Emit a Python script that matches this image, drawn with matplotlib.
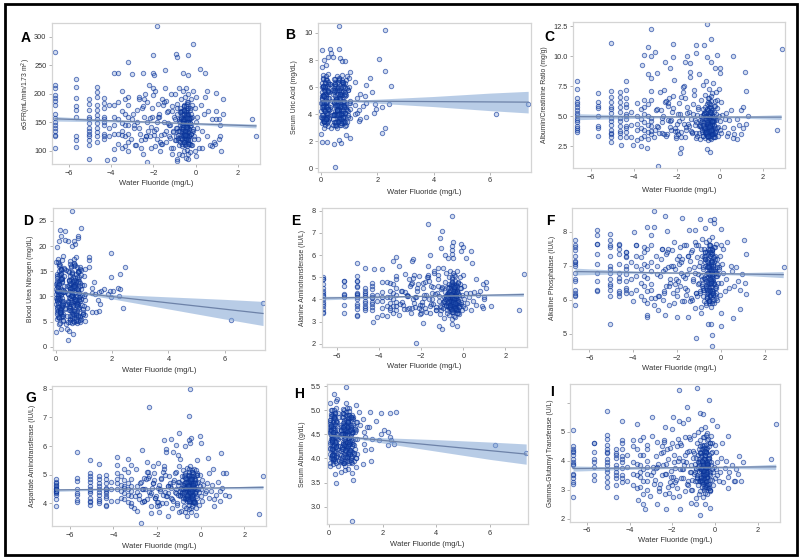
import matplotlib
matplotlib.use("Agg")
import matplotlib.pyplot as plt
from matplotlib.patches import Rectangle

plt.rcParams['font.family'] = ['Liberation Sans', 'DejaVu Sans']

#water fluoride, log scale (panels A C E F G I), one value per y value below
log_x = [
    -6.65,-6.65,-6.65,-6.65,-6.65,-6.65,-6.65,-6.65,-6.65,-6.65,
    -6.65,-6.65,-6.65,-6.65,-5.65,-5.65,-5.65,-5.65,-5.65,-5.65,
    -5.65,-5.05,-5.05,-5.05,-5.05,-5.05,-5.05,-5.05,-5.05,-5.05,
    -5.05,-5.05,-5.05,-4.65,-4.65,-4.65,-4.65,-4.65,-4.65,-4.65,
    -4.65,-4.65,-4.65,-4.35,-4.35,-4.35,-4.35,-4.35,-4.35,-4.35,
    -4.35,-4.35,-4.35,-4.1,-4.1,-4.1,-3.85,-3.85,-3.85,-3.85,
    -3.85,-3.65,-3.65,-3.65,-3.65,-3.5,-3.5,-3.5,-3.5,-3.5,
    -3.5,-3.35,-3.35,-3.35,-3.35,-3.35,-3.2,-3.2,-3.2,-3.2,
    -3.2,-3.2,-3.2,-3.05,-2.95,-2.85,-2.78,-2.7,-2.62,-2.55,
    -2.48,-2.4,-2.35,-2.28,-2.2,-2.12,-2.05,-1.98,-1.9,-1.82,
    -1.75,-1.68,-1.6,-1.52,-1.45,-1.38,-1.3,-1.25,-1.18,-1.12,
    -2.9,-2.6,-2.45,-2.3,-2.15,-2.0,-1.85,-1.7,-1.55,-1.4,
    -1.08,-1.02,-0.98,-0.94,-0.9,-0.86,-0.83,-0.8,-0.77,-0.74,
    -0.72,-0.7,-0.68,-0.66,-0.64,-0.62,-0.6,-0.58,-0.56,-0.55,
    -0.54,-0.53,-0.52,-0.5,-0.49,-0.48,-0.47,-0.46,-0.45,-0.44,
    -0.43,-0.42,-0.41,-0.4,-0.39,-0.38,-0.36,-0.35,-0.34,-0.32,
    -0.3,-0.28,-0.26,-0.24,-0.22,-0.2,-0.18,-0.16,-0.13,-0.1,
    -0.92,-0.85,-0.78,-0.71,-0.65,-0.59,-0.51,-0.44,-0.37,-0.29,
    -0.88,-0.75,-0.63,-0.57,-0.52,-0.46,-0.4,-0.33,-0.25,-0.15,
    -0.08,-0.05,-0.02,0,0.03,0.05,0.08,0.12,0.18,0.25,
    0.3,0.38,0.45,0.52,0.6,0.68,0.78,0.88,0.98,1.1,
    -2.92,-2.75,-2.58,-2.42,-2.25,-2.08,-1.92,-1.78,-1.62,-1.48,
    -2.82,-2.66,-2.5,-2.33,-2.18,-2.02,-1.88,-1.72,-1.58,-1.42,
    -1.35,-1.28,-1.22,-1.15,-1.1,-1.05,-3.0,-2.7,-2.38,-2.1,
    -1.95,-1.8,-1.65,-1.5,-1.32,-1.2,-1.14,-1.06,-1.0,-0.96,
    -0.95,-0.9,-0.87,-0.84,-0.81,-0.79,-0.76,-0.73,-0.7,-0.67,
    -0.65,-0.63,-0.61,-0.59,-0.57,-0.55,-0.53,-0.51,-0.49,-0.47,
    -0.46,-0.45,-0.44,-0.43,-0.42,-0.41,-0.4,-0.39,-0.38,-0.37,
    -0.36,-0.35,-0.33,-0.31,-0.29,-0.27,-0.25,-0.23,-0.21,-0.19,
    -0.82,-0.74,-0.69,-0.64,-0.6,-0.56,-0.54,-0.5,-0.48,-0.46,
    -0.44,-0.42,-0.4,-0.38,-0.35,-0.32,-0.28,-0.24,-0.17,-0.12,
    -0.68,-0.62,-0.58,-0.55,-0.52,-0.5,-0.47,-0.43,-0.41,-0.39,
    -0.66,-0.6,-0.56,-0.53,-0.49,-0.45,-0.42,-0.37,-0.34,-0.3,
    -0.72,-0.67,-0.61,-0.57,-0.54,-0.51,-0.48,-0.44,-0.38,-0.26,
    -0.78,-0.7,-0.64,-0.59,-0.55,-0.5,-0.46,-0.41,-0.36,-0.22]

egfr = [
    105,128,135,140,150,158,165,180,193,197,
    188,145,125,210,107,118,125,160,178,192,
    172,110,118,125,135,140,148,160,172,190,
    130,155,182,116,125,132,148,162,172,180,
    140,155,195,120,130,145,155,160,175,193,
    125,150,183,125,140,180,103,130,145,180,
    160,112,130,155,185,105,128,148,170,205,
    135,108,125,145,165,190,100,130,160,195,
    115,145,180,120,165,110,150,190,130,175,
    95,200,125,150,215,105,175,135,205,120,
    160,100,190,130,210,115,170,145,200,95,
    140,105,160,185,125,210,150,115,180,135,
    105,160,200,125,85,175,135,210,95,150,
    115,190,140,165,92,205,125,155,100,178,
    130,170,110,195,145,88,160,120,210,135,
    150,102,185,125,165,95,140,200,115,155,
    128,175,98,145,190,110,160,135,205,120,
    140,118,155,170,108,148,132,125,162,143,
    182,122,138,152,128,168,142,112,158,135,
    125,175,100,150,195,140,160,120,105,180,
    135,165,195,125,170,110,155,115,170,155,
    145,172,118,190,135,160,108,182,128,150,
    110,140,178,125,158,198,138,165,112,188,
    168,125,145,105,178,132,155,195,120,142,
    128,160,112,185,148,122,170,135,155,118,
    118,140,165,128,152,110,175,135,158,122,
    145,170,115,138,160,125,180,148,112,168,
    130,155,120,175,142,108,162,135,185,150,
    118,165,138,125,172,148,112,158,130,180,
    122,145,168,135,155,115,178,128,150,162,
    140,118,172,132,158,125,148,165,110,138,
    155,128,145,170,118,135,160,125,182,142,
    112,152,130,165,122,148,138,175,120,158,
    168,125,142,115,155,135,178,128,150,118,
    135,160,120,148,172,128,142,158,112,130]
egfr_out_x = [-6.65,-6.65,-5.65,-5.65,-5.05,-4.65,-4.65,-4.2,-3.85,-3.85,-3.65,-3.2,-3.0,-2.5,-2.0,-1.95,-2.0,-1.85,-1.45,-0.95,-0.88,-0.6,-0.37,-0.35,-0.12,0.2,0.45,2.65,2.87,1.3,1.3,1.2,0.95,0.55,-0.9,-2.3,-0.35,0.03,0.75,0.9,1.1,1.15,0.3,1.15,0.95]
egfr_out_y = [273,216,225,212,85,211,203,83,86,237,236,255,235,237,237,233,268,318,242,270,264,236,268,232,287,243,237,156,125,191,165,99,202,205,82,80,85,90,109,112,121,126,105,145,156]

acr = [
    3.7,3.9,4.2,4.5,4.9,5.1,5.3,5.8,6.2,6.5,
    4.0,4.7,5.5,6.0,3.4,4.0,4.2,5.0,5.7,6.2,
    5.9,3.3,3.6,3.9,4.3,4.9,5.3,5.8,6.2,6.6,
    3.5,4.6,5.6,3.3,3.8,4.2,4.9,5.4,6.2,6.6,
    3.6,4.6,5.8,3.3,3.7,4.2,4.8,5.2,5.8,6.5,
    4.0,5.0,6.0,3.3,4.3,5.4,3.0,3.9,5.0,6.1,
    4.4,3.2,4.0,4.8,5.6,3.4,3.9,4.5,5.2,6.4,
    5.8,3.1,3.7,4.3,5.0,6.0,3.5,4.2,4.9,7.1,
    3.8,4.6,6.4,3.3,5.5,4.1,7.0,3.6,5.0,6.2,
    3.4,4.7,6.5,3.9,5.4,8.0,3.2,4.4,6.1,3.7,
    4.9,7.5,3.3,5.8,4.2,8.3,3.6,5.2,6.8,4.5,
    5.6,7.2,3.5,4.6,6.7,3.8,5.2,7.0,4.1,8.7,
    3.6,5.8,8.5,4.2,3.1,6.4,4.8,7.6,3.4,5.3,
    4.0,6.8,3.2,5.0,7.9,3.7,5.6,4.4,6.2,3.0,
    4.6,3.4,6.5,5.2,3.9,7.3,4.2,5.8,3.2,4.9,
    6.0,3.6,4.5,5.5,3.1,6.9,4.0,5.0,3.7,7.8,
    3.5,5.4,4.3,6.3,3.3,4.8,7.0,3.8,5.7,4.1,
    4.7,4.1,5.1,3.9,4.4,5.6,4.2,4.8,3.6,5.9,
    4.5,5.2,3.8,4.3,4.9,4.0,5.4,4.6,3.5,6.4,
    3.4,5.0,7.3,3.9,4.6,6.2,3.6,5.1,4.1,4.8,
    5.3,3.6,4.7,5.5,4.0,3.5,4.8,4.3,5.5,5.8,
    4.2,5.5,3.5,6.1,4.7,3.8,5.2,3.3,6.5,4.4,
    3.6,4.9,6.3,4.1,5.7,3.4,4.6,7.4,3.9,5.4,
    4.8,3.7,6.0,4.3,3.2,5.1,3.9,4.5,5.9,4.0,
    3.5,6.6,4.4,5.3,3.8,7.2,4.7,3.4,5.6,4.2,
    3.6,4.3,5.0,3.9,4.6,3.4,5.6,4.1,3.7,4.8,
    5.3,3.5,4.4,6.0,3.8,4.9,3.3,4.2,5.7,4.5,
    3.9,4.7,3.6,5.2,4.1,3.4,4.9,6.3,3.7,4.4,
    5.5,3.8,4.6,3.5,5.0,4.2,3.3,5.9,4.0,4.7,
    3.7,4.5,5.4,3.9,3.4,6.5,4.3,4.8,3.6,5.1,
    4.1,3.8,5.7,4.4,3.5,4.9,4.6,3.7,5.2,4.0,
    3.6,5.0,4.2,3.9,6.1,4.7,3.4,4.4,5.3,3.8,
    4.8,3.5,4.1,5.5,3.7,4.3,6.7,3.9,4.6,3.3,
    5.2,4.0,3.6,4.7,4.4,3.8,5.0,4.2,3.5,4.9,
    4.3,5.8,3.7,4.5,3.4,4.1,5.4,3.9,4.6,3.6]
acr_out_x = [-6.65,-6.65,-5.05,-3.2,-3.35,-3.5,-3.2,-3.0,-2.55,-2.15,-2.15,-1.5,-1.1,-1.1,-0.75,-0.58,-0.4,0.6,2.87,1.15,1.2,2.65,-2.85,-0.45,-1.85,-1.8,-0.6,-3.4,-4.6,-4.05,-5.05,-3.65,-0.15,-0.2,-0.6,-0.4,-3.6,-3.35,-2.9,-3.2,-2.3,-1.6,-1.4,0,0,-5.65,-4.35,-4.35,-4.65,-5.05,0.35,0.6,0.8,1,1.1,1.2,1.3]
acr_out_y = [7.9,7.3,11.1,12.3,10.8,10.1,10.0,10.35,9.5,11.05,9.9,10.0,10.95,10.3,10.95,12.7,11.45,10.05,10.6,8.7,7.1,3.9,0.85,2.0,1.95,2.4,2.3,2.35,2.65,2.6,2.9,2.55,10.1,9.0,9.9,9.5,9.3,8.5,8.6,8.2,9.0,9.5,9.4,9.0,8.6,6.9,7.9,7.2,7.0,7.1,3.4,3.2,3.1,3.5,4.0,4.4,5.0]

alt = [
    3.45,3.55,3.7,3.9,4.0,4.15,4.3,4.4,4.7,4.9,
    3.4,3.8,4.2,4.5,3.4,3.75,4.1,4.25,4.6,4.85,
    4.2,3.3,3.55,3.8,4.0,4.2,4.3,4.6,4.85,3.7,
    4.1,4.25,4.55,3.5,3.7,3.95,4.1,4.3,4.5,4.4,
    3.6,3.85,4.2,3.5,3.65,3.9,4.05,4.2,4.45,4.75,
    3.8,4.1,4.6,3.2,3.95,4.2,3.6,3.95,4.35,4.8,
    4.1,3.25,3.7,4.1,4.8,3.5,3.85,4.1,4.4,4.75,
    3.6,3.4,3.7,4.0,4.3,4.7,3.5,3.9,4.5,5.05,
    3.7,4.2,4.9,3.3,4.4,3.75,5.15,3.55,4.15,4.6,
    3.4,4.0,5.1,3.65,4.5,5.05,3.35,3.9,4.75,3.6,
    4.2,5.1,3.4,4.6,3.8,5.2,3.5,4.3,4.9,3.7,
    4.4,4.9,3.6,4.1,4.7,3.5,4.2,5.0,3.8,5.3,
    3.5,4.5,5.4,3.9,3.15,4.8,4.1,5.2,3.4,4.3,
    3.7,5.0,3.3,4.2,5.3,3.6,4.6,3.95,4.8,3.1,
    4.0,3.45,4.9,4.3,3.75,5.2,3.9,4.5,3.25,4.15,
    4.7,3.55,4.05,4.4,3.2,5.05,3.8,4.25,3.6,5.3,
    3.5,4.4,3.9,4.8,3.35,4.1,5.0,3.7,4.5,3.8,
    4.1,3.85,4.25,3.7,4.0,4.5,3.9,4.15,3.55,4.6,
    4.0,4.3,3.75,3.95,4.2,3.85,4.4,4.05,3.5,4.7,
    3.5,4.2,5.1,3.7,4.0,4.6,3.6,4.3,3.85,4.1,
    4.3,3.5,3.95,4.35,3.75,4.2,4.4,3.7,4.1,4.5,
    3.9,4.35,3.6,4.75,4.1,3.75,4.5,3.45,4.85,4.0,
    3.55,4.2,4.7,3.85,4.4,3.4,4.05,5.0,3.7,4.55,
    4.25,3.65,4.6,3.95,3.35,4.45,3.8,4.15,4.95,3.6,
    3.75,4.8,4.0,4.3,3.5,5.1,4.15,3.65,4.55,3.9,
    3.6,3.95,4.35,3.75,4.15,3.5,4.55,3.85,4.25,4.05,
    4.4,3.65,4.0,4.7,3.8,4.2,3.45,3.95,4.6,4.1,
    3.75,4.3,3.55,4.5,3.9,3.6,4.25,4.85,3.7,4.05,
    4.65,3.8,4.15,3.5,4.4,3.95,3.4,4.75,3.85,4.2,
    3.7,4.1,4.55,3.9,3.55,5.0,4.0,4.3,3.65,4.45,
    3.85,3.7,4.6,4.2,3.5,4.05,4.35,3.75,4.5,3.9,
    3.6,4.25,3.95,3.8,4.8,4.15,3.45,4.1,4.55,3.75,
    4.35,3.55,3.9,4.65,3.7,4.05,5.1,3.85,4.3,3.4,
    4.5,3.95,3.65,4.2,4.1,3.8,4.4,4.0,3.6,4.3,
    4.05,4.7,3.75,4.25,3.5,3.9,4.55,3.85,4.15,3.65]
alt_out_x = [-0.55,-1.7,-1.0,-1.1,-1.05,-0.5,-0.55,-0.55,-0.1,0,-0.1,0.35,-0.55,-0.85,-1.6,-0.5,-0.75,0.15,0.4,-3.2,-3.35,-3.05,-5.05,-4.65,-4.25,-3.85,-2.4,-2.45,-1.7,-1.2,2.87,2.65,-2.25,-1.0,-1.15,-0.55,-0.3,-1.9,-4.3,0.95,1.3,1.0,1.1,0.95,0.6,-6.65,-6.65,-5.05,-5.05,-5.65,-3.85,-5.05]
alt_out_y = [7.78,7.4,7.07,6.78,6.3,6.6,6.4,6.25,6.5,6.38,6.2,6.2,6.05,6.0,6.0,5.85,5.85,5.85,5.65,5.92,5.75,5.5,5.65,5.42,5.38,5.38,5.82,5.75,5.5,5.4,5.15,3.5,2.02,2.65,2.8,2.88,2.8,2.95,2.97,3.6,3.7,4.0,4.8,4.7,4.9,5.0,4.9,5.05,4.85,4.85,3.3,3.25]

alp = [
    6.1,6.2,6.3,6.6,6.8,7.05,7.1,7.15,7.3,7.45,
    6.15,6.55,7.0,7.55,6.25,6.3,6.55,6.8,7.05,7.35,
    7.65,6.1,6.3,6.4,6.6,6.8,7.0,7.3,7.55,7.75,
    6.45,6.9,7.6,6.1,6.25,6.55,6.8,7.05,7.35,7.5,
    6.2,6.65,7.6,6.2,6.35,6.55,6.75,7.0,7.25,7.4,
    6.3,6.9,7.3,6.2,6.6,7.1,6.3,6.7,7.0,7.3,
    7.6,6.1,6.5,6.9,7.25,6.0,6.4,6.7,7.05,7.4,
    7.55,5.9,6.25,6.65,7.0,7.5,6.05,6.45,6.85,7.9,
    6.3,7.1,7.6,5.85,7.3,6.1,6.7,7.5,6.0,6.9,
    6.4,7.5,5.85,7.0,6.2,7.7,6.6,6.1,7.3,6.8,
    7.2,5.95,7.6,6.3,6.9,6.05,7.45,6.55,7.7,6.2,
    7.0,6.2,7.4,6.6,5.9,7.2,6.4,7.6,6.75,5.95,
    6.1,7.6,6.5,7.1,5.8,7.8,6.3,6.9,5.95,7.4,
    6.6,7.2,5.85,7.7,6.2,6.95,6.4,7.5,6.0,7.05,
    6.3,7.75,5.9,6.7,7.3,6.1,7.6,6.5,6.85,5.8,
    7.15,6.25,7.45,5.95,6.75,7.85,6.15,7.0,6.45,7.55,
    5.9,6.9,7.3,6.35,7.65,6.05,6.7,7.2,6.5,6.95,
    7.5,6.6,6.3,7.0,6.45,7.35,6.15,6.8,6.55,7.1,
    6.4,7.25,6.65,6.2,6.9,6.5,7.4,6.75,6.35,7.05,
    6.9,7.3,6.15,7.6,6.5,7.05,6.8,7.5,6.25,6.6,
    7.7,6.35,7.0,6.85,6.4,6.95,6.55,6.3,6.75,6.5,
    6.75,7.2,6.25,6.95,7.45,6.45,7.05,5.95,6.65,7.3,
    6.1,6.85,7.35,6.5,7.0,6.3,7.55,6.7,6.15,7.15,
    7.4,6.6,6.95,6.2,7.25,6.75,6.05,7.5,6.4,6.9,
    6.55,7.1,6.35,7.3,6.0,6.8,7.6,6.45,7.0,6.25,
    6.2,6.7,7.3,6.45,6.95,6.1,7.5,6.6,7.1,6.35,
    7.4,6.05,6.8,7.2,6.5,5.95,7.0,6.3,7.6,6.65,
    6.15,6.9,7.35,6.4,6.75,5.9,7.15,6.55,7.45,6.25,
    7.05,6.6,6.0,7.25,6.45,6.85,7.55,6.2,6.7,6.95,
    6.35,7.4,6.75,6.1,7.1,6.5,5.95,6.9,7.3,6.6,
    7.0,6.3,6.65,7.5,6.15,6.85,7.2,6.4,6.0,6.75,
    6.55,7.15,6.25,6.95,7.6,6.45,6.1,7.05,6.7,7.35,
    5.9,6.8,7.45,6.35,6.6,7.1,6.2,6.9,7.25,6.5,
    7.3,6.4,6.05,7.0,6.75,6.25,7.5,6.55,6.85,6.15,
    6.65,7.2,6.3,6.95,5.95,7.4,6.5,7.1,6.2,6.8]
alp_out_x = [-6.65,-5.65,-5.65,-5.05,-5.05,-3.95,-3.35,-3.05,-3.05,-2.55,-1.75,-1.45,-1.2,-0.95,-0.7,-0.5,-0.3,-0.3,0,-2.45,1.05,1.15,2.87,2.62,1.15,0.9,0.55,-1.15,-0.4,-0.4,-0.6,-0.45,0.03,-3.35,-3.35,-2.55,-2.0,-1.5,-1.2,-0.9,0,-2.85,-4,-6.65,-6.65,-5.65,-4.65,-4.35,-3.85]
alp_out_y = [5.85,8.05,7.9,7.93,5.3,8.0,8.15,8.13,8.62,8.48,8.4,8.05,8.05,8.37,8.12,8.35,8.37,8.25,8.08,8.03,7.75,7.35,6.97,6.22,6.18,5.72,5.46,4.88,4.63,4.97,5.3,5.3,5.24,5.5,5.55,5.55,5.5,5.5,5.75,5.6,5.6,5.7,5.95,7.75,7.6,7.65,7.65,7.4,7.6]

ast = [
    4.15,4.3,4.4,4.45,4.5,4.55,4.6,4.65,4.75,4.85,
    4.35,4.45,4.52,4.7,4.05,4.12,4.3,4.52,4.78,4.9,
    4.35,3.95,4.05,4.2,4.35,4.45,4.6,4.75,4.95,5.05,
    4.1,4.5,4.85,4.0,4.15,4.3,4.5,4.7,4.85,4.95,
    4.1,4.4,4.62,3.95,4.2,4.35,4.45,4.55,4.7,4.85,
    4.25,4.5,5.0,4.1,4.5,4.75,4.1,4.5,4.7,4.85,
    5.05,4.2,4.45,4.65,4.95,4.15,4.35,4.55,4.8,5.2,
    4.6,4.05,4.3,4.5,4.7,5.1,3.9,4.25,4.6,5.35,
    4.0,4.45,4.85,3.85,5.2,4.3,4.7,4.05,4.9,4.5,
    4.15,5.1,4.4,3.9,4.7,5.05,4.25,4.55,3.95,4.85,
    4.3,5.3,4.0,4.6,4.95,4.2,3.85,4.75,4.4,5.1,
    4.6,4.1,5.1,4.35,4.8,3.9,4.5,5.2,4.25,4.7,
    4.0,4.75,5.3,4.3,3.75,4.95,4.5,5.15,3.9,4.6,
    4.2,5.05,3.85,4.55,5.25,4.1,4.75,4.35,4.9,3.8,
    4.45,3.95,5.0,4.65,4.2,5.3,4.35,4.8,3.85,4.55,
    4.85,4.05,4.5,4.7,3.9,5.1,4.3,4.6,4.15,5.2,
    4.0,4.7,4.35,4.9,3.85,4.5,5.05,4.2,4.75,4.4,
    4.55,4.3,4.7,4.15,4.45,4.85,4.25,4.6,4.1,4.95,
    4.4,4.65,4.2,4.5,4.75,4.35,4.9,4.55,4.05,5.0,
    3.95,4.6,5.0,4.25,4.5,4.8,4.1,4.65,4.35,4.45,
    4.7,4.2,4.45,4.65,4.15,4.3,4.75,4.45,4.55,4.3,
    4.4,4.75,4.1,4.9,4.55,4.2,4.65,4.0,5.0,4.35,
    4.15,4.5,4.85,4.3,4.7,4.05,4.45,5.1,4.25,4.6,
    4.55,4.1,4.8,4.35,3.95,4.65,4.25,4.5,4.95,4.2,
    4.05,4.9,4.4,4.6,4.15,5.05,4.5,4.3,4.75,4.45,
    4.25,4.5,4.8,4.35,4.65,4.1,4.95,4.4,4.7,4.55,
    4.85,4.2,4.55,5.0,4.3,4.6,4.05,4.45,4.9,4.65,
    4.35,4.7,4.15,4.95,4.5,4.25,4.6,5.1,4.4,4.55,
    5.05,4.3,4.65,4.1,4.85,4.5,4.0,5.15,4.45,4.7,
    4.2,4.55,4.9,4.4,4.15,5.2,4.6,4.75,4.3,4.85,
    4.45,4.25,4.95,4.65,4.05,4.55,4.8,4.35,5.0,4.5,
    4.2,4.7,4.5,4.4,5.1,4.6,4.1,4.55,4.85,4.3,
    4.75,4.15,4.45,4.95,4.35,4.6,5.15,4.5,4.7,4.05,
    4.9,4.55,4.25,4.65,4.6,4.4,4.8,4.5,4.2,4.7,
    4.35,5.0,4.3,4.6,4.1,4.5,4.85,4.45,4.65,4.25]
ast_out_x = [-0.5,-0.55,-2.35,-1.0,-0.45,-0.05,0,-0.55,-0.5,-0.7,-1.7,-1.35,-1.15,-1.6,-1.6,-1.25,-1.05,0.35,0.95,-5.65,-5.05,-4.65,-3.85,-3.35,-2.7,-2.45,-1.95,2.87,2.65,-2.75,-2.3,-1.5,-0.65,-0.2,0.6,0.9,1.3,-6.65,-4.35,-2.9,-1.9,0.55,1.0,1.15,0.4,-0.95,-0.15,-3.85,-2.2,-0.7,-1.0,-0.45]
ast_out_y = [8.0,7.05,7.35,6.45,6.3,6.35,6.12,6.22,6.1,6.0,6.2,6.25,6.05,5.9,5.8,5.8,5.7,5.6,5.75,5.8,5.52,5.38,5.63,5.55,5.85,5.45,5.4,4.97,3.63,3.3,3.65,3.55,3.55,3.6,3.9,4.1,4.25,3.9,3.9,3.75,3.7,5.2,5.05,5.05,5.05,5.55,5.5,5.35,5.3,3.7,3.7,3.7]

ggt = [
    3.2,3.4,3.55,3.85,3.95,4.05,4.2,4.3,4.4,4.5,
    3.25,3.5,3.9,4.35,3.35,3.5,3.8,4.05,4.3,4.6,
    3.95,3.1,3.25,3.45,3.7,3.85,4.05,4.25,4.4,4.55,
    3.6,3.95,4.3,3.15,3.4,3.6,3.85,4.1,4.25,4.4,
    3.5,3.75,4.2,3.25,3.5,3.75,3.95,4.15,4.4,4.7,
    3.4,4.05,4.6,3.3,3.8,4.2,3.15,3.55,3.95,4.5,
    4.7,3.05,3.5,3.9,4.4,3.1,3.45,3.85,4.2,4.7,
    3.6,2.85,3.3,3.7,4.2,4.8,3.0,3.55,4.0,4.55,
    3.3,3.8,4.4,2.8,4.85,3.2,3.75,4.65,2.95,4.25,
    3.5,4.7,2.85,3.9,3.1,4.45,3.65,2.75,4.2,3.35,
    4.0,2.8,4.55,3.4,3.85,2.95,4.3,3.15,4.75,3.6,
    3.8,3.05,4.3,3.55,2.9,4.6,3.25,4.1,3.7,4.8,
    3.0,4.35,4.9,3.6,2.7,4.6,3.3,5.0,2.85,3.95,
    3.4,4.7,2.95,3.75,5.1,3.1,4.2,3.55,4.5,2.75,
    3.65,3.0,4.8,4.05,3.25,5.15,3.5,4.4,2.9,3.8,
    4.25,3.15,3.7,4.55,2.85,4.95,3.45,3.9,3.05,4.75,
    3.2,4.1,3.55,4.6,2.95,3.85,4.85,3.35,4.3,3.6,
    3.9,3.45,4.2,3.3,3.7,4.4,3.5,3.95,3.1,4.5,
    3.75,4.05,3.4,3.65,4.15,3.25,4.3,3.8,3.0,4.6,
    3.15,3.8,4.55,3.4,3.7,4.3,3.5,3.95,3.3,3.6,
    4.1,3.25,3.75,4.0,3.45,3.6,3.85,3.3,3.7,3.55,
    3.6,4.15,3.2,3.85,4.4,3.45,3.95,3.05,4.6,3.7,
    3.35,3.9,4.5,3.55,4.05,3.15,3.75,4.75,3.4,4.2,
    3.95,3.3,4.35,3.6,3.0,4.1,3.5,3.8,4.65,3.25,
    3.45,4.5,3.7,4.0,3.2,4.8,3.85,3.35,4.25,3.55,
    3.3,3.7,4.1,3.5,3.95,3.15,4.4,3.6,4.0,3.8,
    4.25,3.35,3.75,4.55,3.45,3.9,3.05,3.65,4.35,3.85,
    3.5,4.05,3.25,4.3,3.65,3.1,4.0,4.7,3.4,3.8,
    4.45,3.55,3.9,3.2,4.2,3.7,3.0,4.6,3.6,3.95,
    3.4,3.85,4.3,3.65,3.25,4.8,3.75,4.05,3.35,4.2,
    3.6,3.45,4.4,3.95,3.15,3.8,4.1,3.5,4.25,3.7,
    3.3,4.0,3.7,3.55,4.55,3.9,3.1,3.85,4.3,3.45,
    4.15,3.25,3.65,4.45,3.4,3.8,4.9,3.6,4.05,3.05,
    4.25,3.7,3.35,3.95,3.85,3.5,4.2,3.75,3.3,4.0,
    3.8,4.5,3.45,4.0,3.2,3.65,4.35,3.55,3.9,3.35]
ggt_out_x = [-1.7,-0.85,-0.3,-1.3,-5.05,-4.35,-3.65,-2.95,-1.95,-1.7,-1.25,-0.7,-0.55,-0.15,0.1,2.87,-6.65,-6.65,-4.65,2.65,-0.7,-2.3,-3.3,-1.65,-0.22,-3.35,-3.6,-2.7,0.6,0.35,-5.05,-5.05,-5.65,-1.1,-0.45,-0.9,1.15,1.3,0.95,1.2,0.6,-2.0,-2.35,-1.5]
ggt_out_y = [6.45,6.5,6.1,5.85,5.7,5.35,5.25,5.5,5.5,5.35,5.45,5.65,5.6,5.4,5.2,5.25,5.05,2.75,2.75,4.05,2.13,2.33,2.35,2.35,2.37,2.5,2.65,2.5,4.85,4.6,4.9,4.75,4.6,2.55,2.5,2.5,4.15,3.95,3.3,3.3,3.05,5.1,5.15,5.3]

#water fluoride, plain scale (panels B D H)
lin_x = [
    .02,.04,.05,.07,.09,.1,.12,.14,.15,.17,
    .19,.2,.22,.24,.25,.27,.29,.31,.34,.37,
    .41,.44,.47,.5,.52,.54,.56,.58,.6,.62,
    .64,.66,.68,.7,.72,.74,.76,.78,.8,.82,
    .84,.86,.88,.9,.92,.95,.98,1.0,1.03,1.05,
    .03,.06,.08,.11,.13,.16,.18,.21,.23,.26,
    .28,.32,.38,.43,.46,.49,.51,.53,.55,.57,
    .59,.61,.63,.65,.67,.69,.71,.73,.75,.77,
    .79,.81,.83,.85,.87,.9,.94,.97,1.01,1.04,
    .02,.05,.1,.15,.2,.25,.3,.45,.5,.55,
    .6,.65,.7,.75,.8,.85,.12,.07,.17,.22,
    .58,.62,.67,.72,.77,.48,.53,.09,.14,.19,
    .04,.08,.13,.18,.24,.42,.47,.52,.57,.63,
    .68,.73,.78,.83,.06,.11,.16,.21,.61,.66,
    .03,.05,.07,.09,.11,.13,.15,.17,.19,.21,
    .23,.25,.27,.29,.33,.4,.45,.48,.5,.52,
    .54,.56,.58,.6,.62,.64,.66,.68,.7,.72,
    .74,.76,.78,.8,.82,.84,.88,.92,.96,1.0,
    .02,.04,.06,.08,.1,.12,.14,.16,.18,.2,
    .22,.24,.26,.3,.44,.46,.49,.51,.53,.55,
    .57,.59,.61,.63,.65,.67,.69,.71,.73,.75,
    .77,.79,.81,.83,.85,.87,.9,.94,.98,1.02,
    .05,.09,.13,.17,.21,.25,.47,.52,.56,.6,
    .64,.68,.72,.76,.8,.84,.03,.07,.11,.15,
    .19,.23,.27,.43,.5,.54,.58,.62,.66,.7,
    .74,.78,.82,.86,.06,.1,.14,.18,.22,.26,
    .48,.53,.57,.61,.65,.69,.73,.77,.81,.85,
    .04,.08,.12,.16,.2,.24,.46,.51,.55,.59]

uric = [
    4.2,6.3,3.3,5.4,6.9,3.8,5.0,6.1,3.2,4.6,
    6.6,3.6,5.7,4.1,7.0,3.1,5.2,6.2,4.4,3.0,
    3.9,5.8,3.4,6.4,4.7,3.1,6.8,5.1,3.7,5.9,
    4.3,6.6,3.2,5.5,4.0,6.9,3.5,4.9,6.2,3.3,
    5.3,3.8,6.5,4.5,3.4,5.8,4.2,6.0,3.7,5.0,
    5.6,3.5,6.7,4.3,3.0,6.0,4.8,3.3,6.5,5.2,
    3.6,4.5,6.1,3.2,5.6,4.0,6.6,3.4,5.1,6.3,
    3.0,5.5,4.4,6.7,3.6,5.9,4.2,3.2,6.4,4.7,
    5.7,3.5,6.1,4.1,3.1,5.4,6.8,3.9,4.8,4.4,
    4.8,6.0,4.4,3.7,5.3,4.6,5.6,4.9,4.2,5.7,
    4.6,5.2,4.1,5.6,3.8,4.5,5.8,4.7,3.4,6.1,
    4.3,5.0,3.7,5.4,4.1,5.9,3.9,5.3,6.4,4.5,
    5.1,3.9,4.5,5.5,6.2,3.6,4.9,5.8,4.3,3.8,
    5.5,4.0,5.0,4.6,4.9,5.9,3.5,4.0,4.6,5.3,
    5.2,3.7,4.4,6.0,4.8,3.4,5.5,4.1,6.5,3.8,
    4.9,5.7,3.5,4.3,6.2,5.0,3.9,6.6,4.6,5.3,
    3.3,5.9,4.2,4.8,6.4,3.6,5.1,4.5,6.0,3.9,
    5.4,4.0,6.3,3.5,4.7,5.6,3.2,4.3,5.8,6.7,
    3.8,5.3,4.6,6.1,3.4,4.9,5.7,4.2,6.8,3.6,
    5.0,4.4,6.4,3.7,5.5,4.0,3.2,6.2,4.7,5.2,
    3.9,5.8,4.3,6.5,3.5,5.1,4.6,3.3,5.6,4.1,
    6.0,3.7,4.9,5.4,3.4,6.3,4.4,5.9,3.8,4.8,
    4.5,6.6,3.6,5.2,4.1,5.7,3.9,6.1,5.0,3.5,
    4.7,5.5,3.3,6.4,4.2,5.9,4.8,3.7,5.3,6.0,
    3.6,4.5,5.6,3.9,6.2,5.1,4.3,3.4,5.8,4.6,
    6.5,3.8,5.0,4.1,5.4,3.5,6.3,4.9,3.7,4.4,
    5.7,3.2,4.7,6.0,4.0,5.2,3.6,6.4,4.5,5.5,
    3.9,6.1,5.3,4.2,3.6,5.8,4.8,3.4,5.0,4.3]
uric_out_x = [.63,2.28,.05,.33,.63,.37,.27,.42,.67,.12,.75,.85,.2,.05,2.05,2.28,1.75,2.48,1.6,1.83,1.4,1.3,1.55,1.6,1.93,2.43,2.17,1.95,1.87,1.6,1.35,1.4,1.2,2.28,2.18,1.05,.02,.05,.22,.47,.72,.65,.9,.5,6.2,7.35,1.2,1.05,1.2,1.3,1.5,1.35]
uric_out_y = [10.5,10.2,8.75,8.85,8.85,8.5,8.2,8.2,8.15,8.0,7.95,7.9,7.6,7.5,8.05,7.2,6.65,6.05,6.15,5.65,5.5,5.2,5.3,4.8,4.75,4.75,4.5,4.4,4.1,3.75,3.45,3.6,4.0,2.95,2.6,2.25,2.5,1.95,1.9,1.8,1.85,2.1,2.45,.05,4.03,4.75,6.4,7.1,4.7,4.1,4.6,4.3]

bun = [
    8.5,14.5,5.5,12.0,17.5,7.0,10.5,16.0,4.8,9.5,
    15.5,6.5,13.0,8.0,18.0,5.2,11.0,14.0,7.5,4.5,
    6.0,15.0,8.8,17.0,5.5,12.5,16.0,7.2,10.0,13.8,
    5.0,16.5,9.0,12.0,6.5,17.8,4.8,11.0,14.8,7.8,
    13.0,6.0,15.5,9.5,5.5,12.2,7.5,14.0,6.2,10.5,
    12.5,6.8,16.8,9.5,4.6,14.5,11.2,5.8,17.2,8.2,
    6.4,10.8,15.2,5.0,13.2,8.5,16.4,5.4,11.6,14.8,
    4.7,12.8,8.0,17.4,6.2,13.6,9.8,5.2,15.8,7.0,
    13.4,6.0,15.0,9.0,4.9,11.5,8.2,6.5,10.0,9.2,
    11.5,13.0,10.0,7.0,14.5,9.0,12.0,10.5,8.0,13.5,
    11.0,9.0,12.5,10.0,8.5,12.0,11.2,9.5,13.2,7.8,
    10.2,11.8,9.0,12.8,8.8,9.8,11.4,10.8,12.4,6.8,
    9.2,12.2,7.8,10.2,13.4,8.4,11.8,9.6,10.6,12.6,
    10.8,8.6,11.6,9.4,11.0,13.0,7.2,10.4,8.2,12.0,
    10.4,7.4,12.6,5.8,14.2,9.2,16.2,6.6,11.4,8.2,
    13.6,5.4,10.8,15.4,7.6,12.0,9.0,14.8,6.0,11.0,
    8.4,15.8,5.6,10.2,13.0,7.0,16.6,9.4,12.4,6.2,
    14.4,8.6,11.2,5.2,13.8,7.4,10.0,15.2,6.8,12.2,
    9.6,6.4,14.0,8.0,11.8,16.4,5.6,10.6,13.4,7.2,
    12.8,9.0,6.0,15.6,10.4,7.8,13.2,5.0,11.6,8.8,
    14.6,6.6,12.0,9.8,7.0,16.0,10.8,5.4,13.0,8.4,
    11.4,15.0,7.6,9.2,12.6,5.8,14.2,10.2,6.4,8.0,
    13.6,9.6,11.0,6.8,15.4,8.6,12.2,7.2,10.0,14.4,
    5.6,11.8,8.2,13.8,6.2,10.6,16.8,9.0,12.4,7.4,
    15.2,6.0,10.8,8.8,14.0,7.0,11.6,5.2,13.2,9.4,
    6.6,12.8,9.8,15.8,7.8,10.4,5.8,14.6,8.4,11.2,
    13.0,7.6,10.2,6.4,12.0,16.2,9.2,8.0,14.8,5.4,
    11.0,8.6,15.0,6.8,13.4,9.6,7.2,12.6,10.0,6.0]
bun_out_x = [.6,.16,.35,.9,.12,.2,.32,.45,.8,.8,.67,.04,.58,.7,1.95,.02,.43,.63,.42,.46,.2,2.45,2.27,1.97,1.2,1.2,1.2,1.05,1.35,1.3,1.72,2.2,2.3,1.93,2.05,1.85,2.25,1.97,1.55,1.5,1.57,2.4,1.3,1.45,1.55,1.1,1.05,6.2,7.35,1.4,1.3,1.6]
bun_out_y = [27,23.2,23,23.5,21.1,21.9,21.2,21,22,21.5,21,19.8,20,20.5,18.7,2.9,1.3,2.5,3.5,3.1,3.5,15.8,14.4,13.8,17.8,17.2,15.8,15.5,12.9,11.7,11.5,11.7,11.4,11.1,11.1,10.5,10.0,9.8,10.9,9.3,8.5,7.7,6.9,6.9,7.0,7.6,5.2,5.3,8.6,10.5,10.7,11]

albumin = [
    4.2,4.8,3.9,4.5,5.0,4.05,4.4,4.9,3.95,4.3,
    4.85,4.0,4.6,4.15,5.05,3.9,4.5,4.75,4.25,3.95,
    4.1,4.7,4.0,4.95,4.3,3.9,5.0,4.55,4.15,4.8,
    4.25,4.9,3.95,4.6,4.1,5.05,3.9,4.45,4.8,4.0,
    4.55,4.05,4.85,4.3,3.95,4.65,4.2,4.75,4.1,4.4,
    4.6,4.0,5.0,4.35,3.88,4.8,4.45,3.95,4.95,4.25,
    4.05,4.4,4.85,3.92,4.65,4.2,5.02,3.9,4.5,4.75,
    3.85,4.7,4.25,5.05,4.0,4.8,4.35,3.95,4.9,4.15,
    4.7,4.02,4.85,4.3,3.9,4.55,4.1,4.4,4.6,4.75,
    4.55,4.75,4.4,4.1,4.85,4.3,4.6,4.5,4.2,4.7,
    4.45,4.25,4.65,4.4,4.15,4.55,4.35,4.6,4.7,4.15,
    4.35,4.55,4.2,4.7,4.3,4.5,4.65,4.45,4.25,4.05,
    4.35,4.65,4.2,4.5,4.75,4.25,4.5,4.35,4.6,4.7,
    4.5,4.3,4.6,4.4,4.6,4.2,4.1,4.45,4.3,4.55,
    4.65,4.1,4.4,4.9,4.25,3.98,4.75,4.15,5.0,4.35,
    4.55,4.02,4.7,4.2,4.95,4.45,4.08,4.85,4.3,4.6,
    3.95,4.8,4.25,4.5,4.9,4.05,4.65,4.35,4.78,4.12,
    4.42,4.98,4.18,4.7,3.92,4.52,4.82,4.28,4.62,4.0,
    4.72,4.22,4.48,4.92,4.08,4.38,4.68,3.98,4.58,4.88,
    4.32,4.02,4.78,4.42,4.6,4.15,3.94,4.86,4.5,4.28,
    4.68,4.1,4.4,4.96,4.22,4.56,4.05,4.76,4.34,4.9,
    4.18,4.62,3.96,4.46,4.84,4.26,4.7,4.12,4.54,4.0,
    4.8,4.36,4.64,4.08,4.94,4.5,4.24,4.74,3.9,4.44,
    4.58,4.04,4.84,4.3,4.66,4.14,4.52,4.88,4.2,4.42,
    3.98,4.72,4.34,4.6,4.06,4.92,4.48,4.16,4.78,4.26,
    4.56,4.1,4.86,4.38,4.68,4.0,4.52,4.28,4.82,4.44,
    4.2,4.94,4.62,4.02,4.48,4.76,4.14,4.36,4.58,4.9,
    4.3,4.7,4.08,4.54,4.84,4.24,3.96,4.66,4.4,4.18]
albumin_out_x = [.63,.18,.3,.25,.05,.63,1.0,1.1,1.53,1.95,2.27,2.48,1.75,1.25,1.4,1.5,2.05,2.2,1.3,1.95,2.28,1.15,1.35,1.6,1.85,2.3,2.43,2.18,1.3,1.35,1.55,1.25,1.57,1.0,.85,.72,.25,.22,.45,.88,.87,6.2,7.35,.05,.35,.6]
albumin_out_y = [5.48,5.33,5.23,5.2,5.15,5.15,5.1,4.97,4.97,4.95,4.95,4.97,4.78,4.82,4.65,4.65,4.6,4.55,4.55,4.5,4.45,4.7,4.45,4.4,4.38,4.38,4.3,4.28,4.3,4.18,4.2,3.88,3.95,3.82,3.7,3.78,3.5,3.68,3.72,3.55,2.7,4.27,4.12,3.85,3.85,3.75]

#regression lines and their confidence bands
log_fit_x = [-6.65,-4,-2,-0.7,1,2.85]
lin_fit_x = [0.02,1,2,4,6,7.35]
egfr_fit = [156,152.5,150,148,146,143.5]
egfr_lo = [152,150.5,148.7,147,143.5,140]
egfr_hi = [160,154.5,151.3,149,148.5,147]
acr_fit = [4.97,4.96,4.96,4.95,4.94,4.93]
acr_lo = [4.72,4.82,4.89,4.9,4.85,4.73]
acr_hi = [5.22,5.1,5.03,5.0,5.03,5.13]
alt_fit = [4.06,4.1,4.14,4.16,4.19,4.22]
alt_lo = [3.98,4.06,4.12,4.14,4.15,4.14]
alt_hi = [4.14,4.14,4.16,4.18,4.23,4.3]
alp_fit = [6.83,6.81,6.79,6.78,6.76,6.74]
alp_lo = [6.73,6.77,6.77,6.76,6.72,6.65]
alp_hi = [6.93,6.85,6.81,6.8,6.8,6.83]
ast_fit = [4.47,4.49,4.51,4.52,4.54,4.56]
ast_lo = [4.42,4.47,4.5,4.51,4.51,4.5]
ast_hi = [4.52,4.51,4.52,4.53,4.57,4.62]
ggt_fit = [3.73,3.74,3.75,3.76,3.77,3.79]
ggt_lo = [3.64,3.7,3.73,3.74,3.73,3.7]
ggt_hi = [3.82,3.78,3.77,3.78,3.81,3.88]
uric_fit = [4.97,4.96,4.95,4.93,4.9,4.88]
uric_lo = [4.9,4.91,4.8,4.55,4.25,4.08]
uric_hi = [5.04,5.01,5.1,5.3,5.55,5.68]
bun_fit = [11.2,10.57,9.95,8.7,7.45,6.6]
bun_lo = [10.95,10.37,9.5,7.5,5.5,4.2]
bun_hi = [11.45,10.77,10.4,9.9,9.4,9.0]
albumin_fit = [4.48,4.43,4.375,4.27,4.16,4.09]
albumin_lo = [4.46,4.41,4.32,4.15,3.98,3.88]
albumin_hi = [4.5,4.45,4.43,4.39,4.34,4.3]

log_ticks = [-6,-4,-2,0,2]
lin_ticks = [0,2,4,6]

W, H = 800, 559
fig = plt.figure(figsize=(W / 100, H / 100), dpi=100)

#letter, ylabel, x, y, outlier x, outlier y, fit x, fit, lo, hi, xticks, yticks, ytick labels,
#axes box in pixels (left, top, right, bottom), xlim, ylim, letter pos, ylabel x, xlabel y
panels = [
    ("A", "eGFR(mL/min/1.73 m$^2$)", log_x, egfr, egfr_out_x, egfr_out_y, log_fit_x, egfr_fit, egfr_lo, egfr_hi,
     log_ticks, [100,150,200,250,300], None, (52,23,260,164), (-6.79,3.04), (76.7,324), (25.7,37.7), 26, 184),
    ("B", "Serum Uric Acid (mg/dL)", lin_x, uric, uric_out_x, uric_out_y, lin_fit_x, uric_fit, uric_lo, uric_hi,
     lin_ticks, [0,2,4,6,8,10], None, (318,23,530.7,171.7), (-0.1,7.44), (-0.27,10.74), (290,35), 295, 192),
    ("C", "Albumin/Creatinine Ratio (mg/g)", log_x, acr, acr_out_x, acr_out_y, log_fit_x, acr_fit, acr_lo, acr_hi,
     log_ticks, [2.5,5,7.5,10,12.5], ["2.5","5.0","7.5","10.0","12.5"], (573.3,21.7,785,168.3), (-6.8,3.03), (0.67,12.88), (549,37), 544, 190),
    ("D", "Blood Urea Nitrogen (mg/dL)", lin_x, bun, bun_out_x, bun_out_y, lin_fit_x, bun_fit, bun_lo, bun_hi,
     lin_ticks, [0,5,10,15,20,25], None, (52.7,208.3,265,350), (-0.1,7.42), (-0.66,27.5), (28,221), 30, 370),
    ("E", "Alanine Aminotransferase (IU/L)", log_x, alt, alt_out_x, alt_out_y, log_fit_x, alt_fit, alt_lo, alt_hi,
     log_ticks, [2,3,4,5,6,7,8], None, (321.7,208.3,527.3,347.3), (-6.73,3.04), (1.84,8.11), (296,221), 302, 367),
    ("F", "Alkaline Phosphatase (IU/L)", log_x, alp, alp_out_x, alp_out_y, log_fit_x, alp_fit, alp_lo, alp_hi,
     log_ticks, [5,6,7,8], None, (572.3,207.7,786.7,349), (-6.78,3.01), (4.55,8.71), (550,221), 552, 369),
    ("G", "Aspartate Aminotransferase (IU/L)", log_x, ast, ast_out_x, ast_out_y, log_fit_x, ast_fit, ast_lo, ast_hi,
     log_ticks, [4,5,6,7,8], None, (52.3,386,266,526.3), (-6.8,2.99), (3.2,8.1), (30.7,397.7), 33, 546),
    ("H", "Serum Albumin (g/dL)", lin_x, albumin, albumin_out_x, albumin_out_y, lin_fit_x, albumin_fit, albumin_lo, albumin_hi,
     lin_ticks, [3,3.5,4,4.5,5,5.5], ["3.0","3.5","4.0","4.5","5.0","5.5"], (326.7,383.7,528.3,524), (-0.09,7.43), (2.64,5.55), (299,393.7), 303, 544),
    ("I", "Gamma-Glutamyl Transferase (U/L)", log_x, ggt, ggt_out_x, ggt_out_y, log_fit_x, ggt_fit, ggt_lo, ggt_hi,
     log_ticks, [2,3,4,5,6], ["2","3","4","5",""], (570.3,384.3,780,521.7), (-6.78,3.05), (1.9,6.63), (552,392.3), 551, 541),
]

for p in panels:
    letter, ylab, x, y, ox, oy, fx, fit, lo, hi, xt, yt, ytl, box, xlim, ylim, lpos, ylab_x, xlab_y = p
    left, top, right, bottom = box
    ax = fig.add_axes([left / W, 1 - bottom / H, (right - left) / W, (bottom - top) / H])
    n = min(len(x), len(y))
    ax.scatter(list(x[:n]) + ox, list(y[:n]) + oy, s=10, facecolor=(0.2, 0.38, 0.72, 0.22),
               edgecolor=(0.04, 0.2, 0.6, 0.62), linewidth=0.7, zorder=2)
    ax.fill_between(fx, lo, hi, color="#7fa3d3", alpha=0.55, linewidth=0, zorder=3)
    ax.plot([fx[0], fx[-1]], [fit[0], fit[-1]], color="#6d82a8", lw=0.9, zorder=4)
    ax.set_xlim(xlim)
    ax.set_ylim(ylim)
    ax.set_xticks(xt)
    ax.set_yticks(yt)
    if ytl:
        ax.set_yticklabels(ytl)
    ax.tick_params(labelsize=5.3, length=2, width=0.5, color="#999999", labelcolor="#333333", pad=2)
    for s in ax.spines.values():
        s.set_color("#d4d4d4")
        s.set_linewidth(0.9)
    cx = (left + right) / 2
    cy = (top + bottom) / 2
    fig.text(cx / W, 1 - xlab_y / H, "Water Fluoride (mg/L)", fontsize=5.5, color="#333333", ha="center", va="center")
    fig.text(ylab_x / W, 1 - cy / H, ylab, fontsize=4.9, color="#333333", ha="center", va="center", rotation=90)
    fig.text(lpos[0] / W, 1 - lpos[1] / H, letter, fontsize=10, fontweight="bold", color="black", ha="center", va="center")

#black frame round the whole figure
fig.add_artist(Rectangle((4.5 / W, 1 - 555 / H), 792 / W, 551 / H, transform=fig.transFigure,
                         fill=False, edgecolor="black", linewidth=2))

fig.savefig("out.png", dpi=100)
